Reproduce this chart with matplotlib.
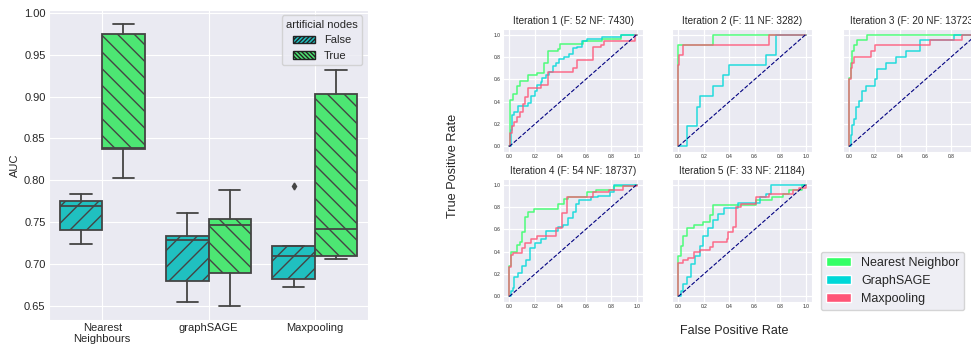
import matplotlib
matplotlib.use("Agg")
import matplotlib.pyplot as plt
import seaborn as sns
from matplotlib.patches import Patch

# ---------------- data: boxplot (AUC) ----------------
methods = ["Nearest\nNeighbours", "graphSAGE", "Maxpooling"]
hue_levels = ["False", "True"]
# per method: [False, True]
whislo = [[0.724, 0.803], [0.655, 0.650], [0.672, 0.706]]
q1 = [[0.741, 0.837], [0.679, 0.689], [0.682, 0.710]]
med = [[0.769, 0.839], [0.728, 0.747], [0.709, 0.742]]
q3 = [[0.775, 0.975], [0.733, 0.754], [0.721, 0.903]]
whishi = [[0.783, 0.987], [0.761, 0.788], [0.722, 0.932]]
fliers = [[[], []], [[], []], [[0.793], []]]

# ---------------- data: ROC curves ----------------
iter_titles = ["Iteration 1 (F: 52 NF: 7430)", "Iteration 2 (F: 11 NF: 3282)",
               "Iteration 3 (F: 20 NF: 13723)", "Iteration 4 (F: 54 NF: 18737)",
               "Iteration 5 (F: 33 NF: 21184)"]
roc_labels = ["Nearest Neighbor", "GraphSAGE", "Maxpooling"]

nn_fpr_1 = [0, 0.005, 0.03, 0.06, 0.08, 0.15, 0.22, 0.27, 0.30, 0.38, 0.40, 0.58, 0.73, 0.88, 1.0]
nn_tpr_1 = [0, 0.42, 0.47, 0.54, 0.59, 0.64, 0.66, 0.75, 0.85, 0.87, 0.92, 0.94, 0.96, 1.0, 1.0]
gs_fpr_1 = [0, 0.01, 0.02, 0.04, 0.07, 0.15, 0.17, 0.20, 0.22, 0.25, 0.26, 0.29, 0.31, 0.34, 0.37,
            0.39, 0.43, 0.47, 0.50, 0.53, 0.57, 0.61, 0.73, 0.88, 1.0]
gs_tpr_1 = [0, 0.15, 0.28, 0.31, 0.36, 0.39, 0.45, 0.50, 0.55, 0.58, 0.61, 0.64, 0.67, 0.72, 0.75,
            0.78, 0.80, 0.83, 0.88, 0.89, 0.94, 0.96, 0.98, 1.0, 1.0]
mp_fpr_1 = [0, 0.005, 0.02, 0.04, 0.06, 0.08, 0.11, 0.12, 0.15, 0.25, 0.30, 0.50, 0.53, 0.66, 0.72, 0.74, 0.99, 1.0]
mp_tpr_1 = [0, 0.12, 0.18, 0.22, 0.26, 0.31, 0.38, 0.44, 0.52, 0.55, 0.67, 0.70, 0.77, 0.89, 0.91, 0.94, 1.0, 1.0]

nn_fpr_2 = [0, 0, 0.27, 1.0]
nn_tpr_2 = [0, 0.91, 1.0, 1.0]
gs_fpr_2 = [0, 0.065, 0.15, 0.17, 0.27, 0.35, 0.40, 0.69, 0.77, 1.0]
gs_tpr_2 = [0, 0.18, 0.35, 0.45, 0.54, 0.64, 0.73, 0.82, 1.0, 1.0]
mp_fpr_2 = [0, 0, 0.008, 0.04, 0.71, 1.0]
mp_tpr_2 = [0, 0.73, 0.82, 0.91, 1.0, 1.0]

nn_fpr_3 = [0, 0, 0.013, 0.02, 0.04, 0.06, 0.14, 1.0]
nn_tpr_3 = [0, 0.61, 0.75, 0.85, 0.91, 0.95, 1.0, 1.0]
gs_fpr_3 = [0, 0.013, 0.021, 0.04, 0.055, 0.08, 0.10, 0.13, 0.20, 0.22, 0.29, 0.37, 0.45, 0.56, 0.82, 1.0]
gs_tpr_3 = [0, 0.10, 0.19, 0.25, 0.35, 0.41, 0.50, 0.54, 0.60, 0.69, 0.75, 0.80, 0.85, 0.95, 1.0, 1.0]
mp_fpr_3 = [0, 0, 0.013, 0.02, 0.04, 0.17, 0.205, 0.635, 0.89, 1.0]
mp_tpr_3 = [0, 0.60, 0.70, 0.75, 0.80, 0.85, 0.91, 0.95, 1.0, 1.0]

nn_fpr_4 = [0, 0, 0.013, 0.06, 0.08, 0.10, 0.12, 0.15, 0.19, 0.38, 0.43, 0.46, 0.61, 0.68, 0.82, 0.99, 1.0]
nn_tpr_4 = [0, 0.27, 0.40, 0.46, 0.49, 0.58, 0.71, 0.76, 0.78, 0.83, 0.87, 0.89, 0.93, 0.95, 0.99, 1.0, 1.0]
gs_fpr_4 = [0, 0.013, 0.03, 0.04, 0.07, 0.10, 0.13, 0.16, 0.20, 0.25, 0.29, 0.38, 0.42, 0.46, 0.50,
            0.52, 0.55, 0.64, 0.70, 0.79, 0.82, 1.0]
gs_tpr_4 = [0, 0.05, 0.08, 0.17, 0.21, 0.27, 0.33, 0.43, 0.48, 0.51, 0.59, 0.62, 0.64, 0.70, 0.76,
            0.83, 0.86, 0.89, 0.90, 0.93, 1.0, 1.0]
mp_fpr_4 = [0, 0, 0.013, 0.03, 0.10, 0.12, 0.17, 0.22, 0.37, 0.41, 0.45, 0.66, 0.78, 0.89, 1.0]
mp_tpr_4 = [0, 0.26, 0.37, 0.39, 0.43, 0.48, 0.51, 0.54, 0.61, 0.75, 0.89, 0.93, 0.95, 0.99, 1.0]

nn_fpr_5 = [0, 0, 0.018, 0.034, 0.065, 0.12, 0.195, 0.25, 0.27, 0.61, 0.74, 0.82, 0.87, 0.97, 1.0]
nn_tpr_5 = [0, 0.36, 0.45, 0.54, 0.61, 0.64, 0.67, 0.73, 0.82, 0.86, 0.89, 0.92, 0.95, 1.0, 1.0]
gs_fpr_5 = [0, 0.018, 0.04, 0.065, 0.10, 0.13, 0.17, 0.195, 0.23, 0.27, 0.31, 0.36, 0.47, 0.64, 0.69, 0.73, 1.0]
gs_tpr_5 = [0, 0.05, 0.11, 0.17, 0.29, 0.36, 0.45, 0.54, 0.61, 0.68, 0.74, 0.79, 0.84, 0.89, 0.92, 1.0, 1.0]
mp_fpr_5 = [0, 0, 0.034, 0.08, 0.12, 0.17, 0.25, 0.27, 0.38, 0.39, 0.43, 0.45, 0.49, 0.61, 0.71, 0.90, 0.95, 1.0]
mp_tpr_5 = [0, 0.30, 0.33, 0.34, 0.40, 0.42, 0.44, 0.49, 0.51, 0.58, 0.62, 0.80, 0.83, 0.89, 0.92, 0.95, 0.97, 1.0]

roc_fpr = [[nn_fpr_1, gs_fpr_1, mp_fpr_1], [nn_fpr_2, gs_fpr_2, mp_fpr_2], [nn_fpr_3, gs_fpr_3, mp_fpr_3],
           [nn_fpr_4, gs_fpr_4, mp_fpr_4], [nn_fpr_5, gs_fpr_5, mp_fpr_5]]
roc_tpr = [[nn_tpr_1, gs_tpr_1, mp_tpr_1], [nn_tpr_2, gs_tpr_2, mp_tpr_2], [nn_tpr_3, gs_tpr_3, mp_tpr_3],
           [nn_tpr_4, gs_tpr_4, mp_tpr_4], [nn_tpr_5, gs_tpr_5, mp_tpr_5]]

# ---------------- style ----------------
sns.set_style("darkgrid")
plt.rcParams["font.family"] = ["Liberation Sans", "DejaVu Sans"]

box_colors = ["#20c0c0", "#4de673"]
box_hatches = ["//", "\\\\"]
legend_hatches = ["////////", "\\\\\\\\\\\\\\\\"]
edge = "#444444"
roc_colors = ["#33ff66", "#00d8d8", "#ff5577"]

fig = plt.figure(figsize=(9.71, 3.48), dpi=100)

# ---------------- left: boxplot ----------------
ax = fig.add_axes([0.0505, 0.0805, 0.3285, 0.891])
stats, positions, fcs, hts = [], [], [], []
for i in range(len(methods)):
    for j in range(len(hue_levels)):
        stats.append(dict(med=med[i][j], q1=q1[i][j], q3=q3[i][j],
                          whislo=whislo[i][j], whishi=whishi[i][j], fliers=fliers[i][j]))
        positions.append(i + (j - 0.5) * 0.4)
        fcs.append(box_colors[j])
        hts.append(box_hatches[j])

bp = ax.bxp(stats, positions=positions, widths=0.4, patch_artist=True, showfliers=True,
            boxprops=dict(edgecolor=edge, linewidth=1.3),
            medianprops=dict(color=edge, linewidth=1.3),
            whiskerprops=dict(color=edge, linewidth=1.3),
            capprops=dict(color=edge, linewidth=1.3),
            flierprops=dict(marker="d", markersize=3.5, markerfacecolor=edge, markeredgecolor=edge))
for b, fc, h in zip(bp["boxes"], fcs, hts):
    b.set_facecolor(fc)
    b.set_hatch(h)
    b.set_edgecolor(edge)

ax.set_xlim(-0.5, 2.5)
ax.set_ylim(0.633, 1.0035)
ax.set_xticks(range(len(methods)))
ax.set_xticklabels(methods, fontsize=8, linespacing=1.05)
yt = [0.65, 0.70, 0.75, 0.80, 0.85, 0.90, 0.95, 1.00]
ax.set_yticks(yt)
ax.set_yticklabels(["%.2f" % v for v in yt], fontsize=8)
ax.tick_params(axis="both", length=0, pad=2.5)
ax.set_ylabel("AUC", fontsize=8, labelpad=3)
handles = [Patch(facecolor=box_colors[j], edgecolor="#222222", hatch=legend_hatches[j], label=hue_levels[j])
           for j in range(len(hue_levels))]
ax.legend(handles=handles, title="artificial nodes", loc="upper right", fontsize=8, title_fontsize=8)

# ---------------- right: ROC grid ----------------
col_left = [0.518, 0.692, 0.868]
row_bottom = [0.563, 0.132]
w, h = 0.1442, 0.3534
for k in range(5):
    r, c = divmod(k, 3)
    a = fig.add_axes([col_left[c], row_bottom[r], w, h])
    for m in range(3):
        a.step(roc_fpr[k][m], roc_tpr[k][m], where="post", color=roc_colors[m], lw=1.1, alpha=0.85)
    a.plot([0, 1], [0, 1], color="navy", lw=0.8, ls="--")
    a.set_xticks([0, 0.2, 0.4, 0.6, 0.8, 1.0])
    a.set_yticks([0, 0.2, 0.4, 0.6, 0.8, 1.0])
    a.tick_params(labelsize=3.5, pad=1.5, length=0)
    if c != 0:
        a.set_yticklabels([])
    for gl in a.get_xgridlines() + a.get_ygridlines():
        gl.set_linewidth(0.9)
    a.set_title(iter_titles[k], fontsize=7.2, pad=4)

fig.text(0.4665, 0.523, "True Positive Rate", rotation=90, fontsize=9.2, ha="center", va="center")
fig.text(0.756, 0.049, "False Positive Rate", fontsize=9, ha="center", va="center")
roc_handles = [Patch(facecolor=roc_colors[m], label=roc_labels[m]) for m in range(3)]
fig.legend(handles=roc_handles, loc="upper left", bbox_to_anchor=(0.839, 0.295), fontsize=9)

fig.savefig("out.png", dpi=100)
